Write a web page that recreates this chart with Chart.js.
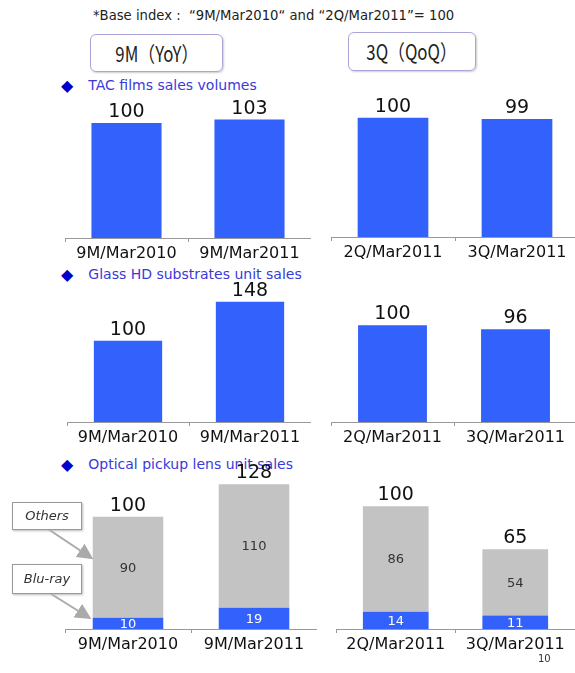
<!DOCTYPE html>
<html>
<head>
<meta charset="utf-8">
<script src="https://cdn.jsdelivr.net/npm/chart.js@4.4.0/dist/chart.umd.min.js"></script>
<style>
  html, body { margin: 0; padding: 0; background: #fff; overflow: hidden; }
  body { width: 575px; height: 673px; position: relative; font-family: "DejaVu Sans", sans-serif; }
  canvas { position: absolute; }
  .txt { position: absolute; white-space: nowrap; }
  .period { position: absolute; border: 1px solid #aaa4d8; border-radius: 6px; box-shadow: 1px 1px 2px #ccc;
            font-family: "Noto Sans CJK JP", sans-serif; font-size: 21px; color: #222; text-align: center; }
  .period span { display: inline-block; transform: scaleX(0.8); }
  .head { position: absolute; font-size: 14px; color: #3a3ad8; white-space: nowrap; }
  .head b { color: #0000cc; font-size: 16px; margin-right: 15px; font-weight: normal; position: relative; top: 1px; }
  .note { position: absolute; border: 1px solid #999; background: #fff; box-shadow: 1px 1px 2px #bbb;
          font-size: 13px; font-style: italic; color: #333; text-align: center; }
</style>
</head>
<body>
<div class="txt" style="left:93px; top:8px; font-size:13.2px; color:#222;">*Base index : &nbsp;“9M/Mar2010“ and “2Q/Mar2011”= 100</div>
<div class="period" style="left:90px; top:34px; width:131px; height:36px; line-height:36px;"><span>9M（YoY）</span></div>
<div class="period" style="left:348px; top:32px; width:126px; height:37px; line-height:37px;"><span>3Q（QoQ）</span></div>

<div class="head" style="left:61px; top:75px;"><b>◆</b>TAC films sales volumes</div>
<div class="head" style="left:61px; top:264px;"><b>◆</b>Glass HD substrates unit sales</div>
<div class="head" style="left:61px; top:454px;"><b>◆</b>Optical pickup lens unit sales</div>

<canvas id="tac9M" width="246" height="196" style="left:65px; top:72px;"></canvas>
<canvas id="tac3Q" width="248" height="201" style="left:331px; top:66px;"></canvas>
<canvas id="glass9M" width="244" height="188" style="left:67px; top:264px;"></canvas>
<canvas id="glass3Q" width="246" height="174" style="left:331px; top:278px;"></canvas>
<canvas id="pickup9M" width="252" height="215" style="left:65px; top:444px;"></canvas>
<canvas id="pickup3Q" width="239" height="193" style="left:336px; top:466px;"></canvas>

<svg style="position:absolute; left:0; top:0;" width="575" height="673">
  <defs>
    <marker id="arr" markerWidth="8" markerHeight="8" refX="6" refY="4" orient="auto">
      <path d="M0,0 L8,4 L0,8 z" fill="#aaa"/>
    </marker>
  </defs>
  <line x1="48" y1="529" x2="90" y2="557" stroke="#aaa" stroke-width="2" marker-end="url(#arr)"/>
  <line x1="48" y1="592" x2="88" y2="617" stroke="#aaa" stroke-width="2" marker-end="url(#arr)"/>
</svg>
<div class="note" style="left:12px; top:502px; width:68px; height:26px; line-height:26px;">Others</div>
<div class="note" style="left:12px; top:564px; width:68px; height:28px; line-height:28px;">Blu-ray</div>

<div class="txt" style="left:538px; top:653px; font-size:10px; color:#333;">10</div>

<script>
// categories
const periods9M = ['9M/Mar2010', '9M/Mar2011'];
const periods3Q = ['2Q/Mar2011', '3Q/Mar2011'];

// TAC films sales volumes (index)
const tac9M = [100, 103];
const tac3Q = [100, 99];

// Glass HD substrates unit sales (index)
const glass9M = [100, 148];
const glass3Q = [100, 96];

// Optical pickup lens unit sales (index), stacked
const bluray9M = [10, 19];
const others9M = [90, 110];
const pickupTotal9M = [100, 128];
const bluray3Q = [14, 11];
const others3Q = [86, 54];
const pickupTotal3Q = [100, 65];

const BLUE = '#3361fb';
const GREY = '#c3c3c3';

// draws segment labels and totals on top of bars
const barLabels = {
    id: 'barLabels',
    afterDatasetsDraw(chart, args, opts) {
        const ctx = chart.ctx;
        ctx.save();
        ctx.textAlign = 'center';
        chart.data.datasets.forEach((ds, i) => {
            if (!ds.innerColor) return;
            chart.getDatasetMeta(i).data.forEach((bar, j) => {
                ctx.fillStyle = ds.innerColor;
                ctx.font = '13px "DejaVu Sans"';
                ctx.textBaseline = 'middle';
                ctx.fillText(ds.data[j], bar.x, (bar.y + bar.base) / 2 + 1);
            });
        });
        const last = chart.getDatasetMeta(chart.data.datasets.length - 1);
        last.data.forEach((bar, j) => {
            ctx.fillStyle = '#111';
            ctx.font = '19px "DejaVu Sans"';
            ctx.textBaseline = 'alphabetic';
            ctx.fillText(opts.totals[j], bar.x, bar.y - 6);
        });
        ctx.restore();
    }
};

function makeChart(id, labels, datasets, max, totals, barPct) {
    const ctx = document.getElementById(id).getContext('2d');
    return new Chart(ctx, {
        type: 'bar',
        data: { labels: labels, datasets: datasets },
        options: {
            responsive: false,
            animation: false,
            devicePixelRatio: 1,
            layout: { padding: { top: 28, left: 0, right: 0, bottom: 0 } },
            datasets: { bar: { barPercentage: barPct, categoryPercentage: 1.0 } },
            scales: {
                x: {
                    stacked: true,
                    grid: { drawOnChartArea: false, color: '#999', tickLength: 4 },
                    border: { color: '#999', width: 1 },
                    ticks: { color: '#111', font: { family: 'DejaVu Sans', size: 16 }, padding: 2, maxRotation: 0 },
                    afterFit: (scale) => { scale.height = 30; }
                },
                y: { stacked: true, display: false, min: 0, max: max }
            },
            plugins: {
                legend: { display: false },
                tooltip: { enabled: false },
                barLabels: { totals: totals }
            }
        },
        plugins: [barLabels]
    });
}

makeChart('tac9M', periods9M, [{ data: tac9M, backgroundColor: BLUE }], 120, tac9M, 0.57);
makeChart('tac3Q', periods3Q, [{ data: tac3Q, backgroundColor: BLUE }], 120, tac3Q, 0.57);
makeChart('glass9M', periods9M, [{ data: glass9M, backgroundColor: BLUE }], 160, glass9M, 0.56);
makeChart('glass3Q', periods3Q, [{ data: glass3Q, backgroundColor: BLUE }], 120, glass3Q, 0.56);
makeChart('pickup9M', periods9M, [
    { label: 'Blu-ray', data: bluray9M, backgroundColor: BLUE, innerColor: '#fff' },
    { label: 'Others', data: others9M, backgroundColor: GREY, innerColor: '#333' }
], 140, pickupTotal9M, 0.56);
makeChart('pickup3Q', periods3Q, [
    { label: 'Blu-ray', data: bluray3Q, backgroundColor: BLUE, innerColor: '#fff' },
    { label: 'Others', data: others3Q, backgroundColor: GREY, innerColor: '#333' }
], 110, pickupTotal3Q, 0.55);
</script>
</body>
</html>
